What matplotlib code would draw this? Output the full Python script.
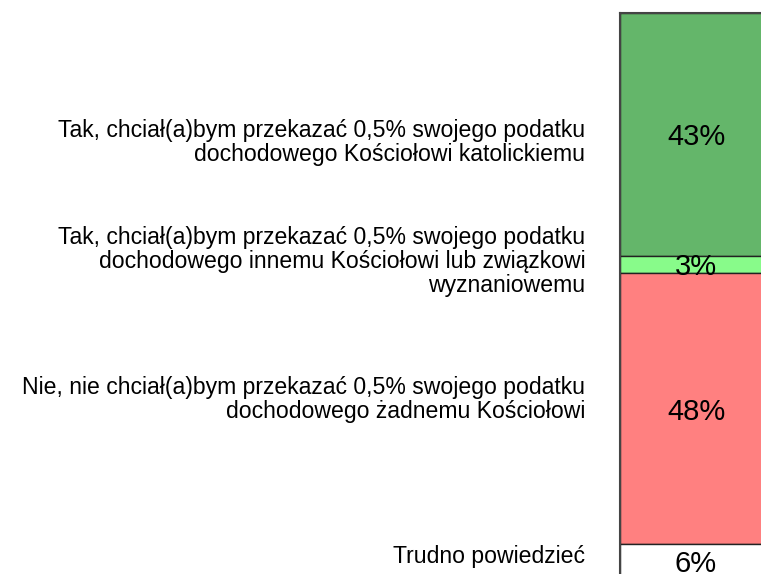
import matplotlib
matplotlib.use("Agg")
import matplotlib.pyplot as plt
from matplotlib import transforms

plt.rcParams['font.family'] = ['Liberation Sans', 'DejaVu Sans']

categories = [
    "Tak, chciał(a)bym przekazać 0,5% swojego podatku\ndochodowego Kościołowi katolickiemu",
    "Tak, chciał(a)bym przekazać 0,5% swojego podatku\ndochodowego innemu Kościołowi lub związkowi\nwyznaniowemu",
    "Nie, nie chciał(a)bym przekazać 0,5% swojego podatku\ndochodowego żadnemu Kościołowi",
    "Trudno powiedzieć",
]
values = [43, 3, 48, 6]
value_labels = ["43%", "3%", "48%", "6%"]
colors = ["#64B66A", "#88FB8A", "#FF8080", "#FFFFFF"]

# vertical nudges of category labels (pixels, positive = up)
label_nudge_px = [-5, 6, 12, 7]

fig = plt.figure(figsize=(7.61, 5.74), dpi=100)
ax = fig.add_axes([620/761, 1 - 578/574, 152/761, 565/574])

bottom = 0
centers = []
for v, c, lab in zip(values, colors, value_labels):
    ax.bar(0, v, bottom=bottom, width=1.0, color=c, edgecolor="#222222", linewidth=1.0)
    ax.text(0, bottom + v / 2, lab, ha="center", va="center_baseline", fontsize=21, color="black")
    centers.append(bottom + v / 2)
    bottom += v

ax.set_xlim(-0.5, 0.5)
ax.set_ylim(100, 0)
ax.set_xticks([])
ax.set_yticks(centers)
ax.set_yticklabels(categories, fontsize=16.6, ha="right", multialignment="right", linespacing=1.07)
ax.tick_params(axis="y", length=0, pad=25)
for t, n in zip(ax.get_yticklabels(), label_nudge_px):
    offset = transforms.ScaledTranslation(0, n/100, fig.dpi_scale_trans)
    t.set_transform(t.get_transform() + offset)
for s in ["right", "bottom"]:
    ax.spines[s].set_visible(False)
for s in ["left", "top"]:
    ax.spines[s].set_color("#444444")
    ax.spines[s].set_linewidth(1.5)

fig.savefig("out.png", dpi=100)
